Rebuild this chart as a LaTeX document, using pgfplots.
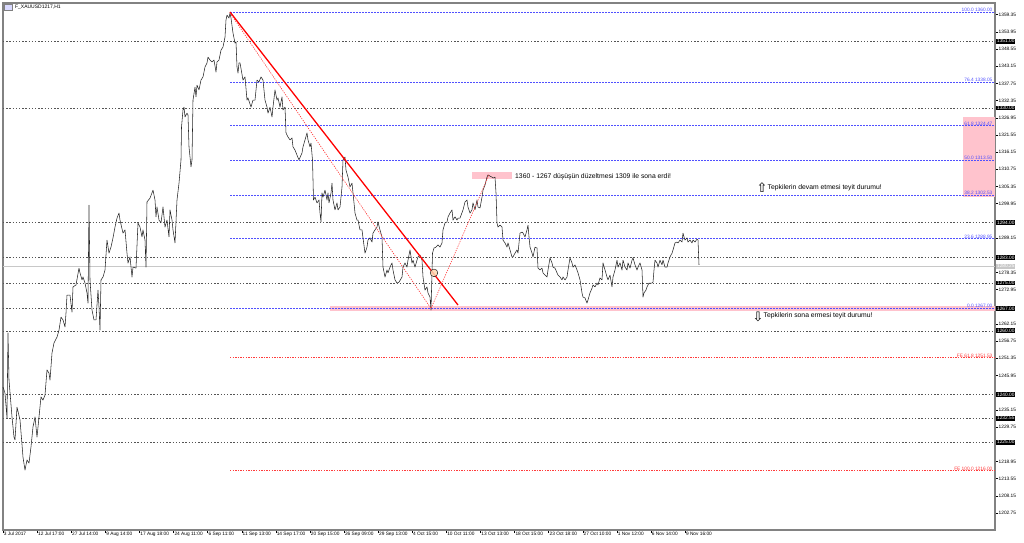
\documentclass[border=0pt]{standalone}
\usepackage{fontspec}
\setmainfont{Liberation Sans}
\newfontfamily\arrowfont{DejaVu Sans}
\usepackage{pgfplots}
\usepackage{pgfplotstable}
\pgfplotsset{compat=1.18}

\definecolor{fibblue}{RGB}{80,80,255}
\definecolor{fered}{RGB}{255,60,60}
\definecolor{dotgray}{RGB}{85,85,85}
\definecolor{zonepink}{RGB}{255,195,205}
\definecolor{framegray}{RGB}{130,130,130}
\definecolor{bidgray}{RGB}{200,200,200}

\tikzset{
  lbl/.style={inner sep=0.4pt, font=\fontsize{4.8}{5}\selectfont},
  pbox/.style={anchor=west, fill=black, text=white, inner sep=0.7pt, xshift=1.2pt, font=\fontsize{4.8}{5}\selectfont},
}

% close prices, x = bar position on the chart
\pgfplotstableread{
x p
3 1242.3
5 1240.4
7 1232.6
8 1259.3
9 1244.5
12 1232.9
14 1226.6
15 1225.7
17 1236.0
20 1232.0
23 1220.3
25 1216.2
27 1219.4
29 1218.4
31 1223.5
33 1229.8
35 1232.9
36 1229.8
37 1226.6
39 1232.9
41 1239.2
43 1238.2
45 1239.8
47 1247.7
49 1246.7
50 1244.5
52 1253.0
54 1256.2
57 1258.0
59 1260.2
61 1264.3
63 1263.4
65 1261.2
66 1265.6
67 1271.2
70 1271.2
72 1265.9
73 1273.8
76 1274.4
79 1279.7
80 1278.2
82 1276.0
83 1276.9
85 1275.0
87 1271.9
88 1268.7
89 1299.5
90 1276.0
92 1266.5
94 1263.4
96 1263.4
98 1272.8
99 1267.5
100 1260.2
101 1276.0
103 1276.9
105 1279.1
107 1288.5
109 1284.4
111 1286.3
113 1289.2
115 1292.6
117 1295.4
119 1297.0
120 1294.8
123 1290.7
125 1291.7
127 1284.4
128 1281.3
130 1283.2
132 1276.9
133 1280.0
136 1279.7
138 1293.9
140 1292.6
142 1289.5
143 1291.7
145 1288.5
146 1280.0
147 1300.5
150 1301.7
153 1304.2
155 1301.1
156 1295.8
157 1298.9
159 1294.8
161 1293.9
163 1298.9
165 1292.6
167 1294.8
169 1289.5
170 1298.0
172 1294.8
173 1291.7
175 1287.6
177 1301.1
179 1306.4
181 1313.7
181.5 1324.0
183 1329.4
184 1330.3
185 1327.2
187 1328.4
188 1327.8
189 1317.8
191 1311.5
192 1313.7
193 1332.5
195 1336.6
196 1333.5
197 1337.2
199 1335.7
201 1338.8
203 1339.8
205 1342.9
207 1344.2
208 1346.0
210 1345.1
212 1344.5
214 1345.1
216 1341.3
217 1344.5
219 1345.1
221 1348.2
223 1349.2
225 1352.3
226 1357.7
227 1359.2
229 1358.3
230 1359.9
231 1358.3
233 1353.6
235 1350.4
236 1350.8
237 1342.9
238 1341.0
239 1344.2
240 1344.2
243 1338.8
245 1339.8
247 1332.5
248 1333.2
251 1330.3
253 1332.5
255 1332.5
257 1338.8
259 1338.2
261 1339.8
263 1338.8
265 1332.5
267 1330.3
268 1328.4
270 1330.3
272 1327.2
273 1330.3
275 1335.7
277 1332.5
278 1333.2
280 1330.3
282 1333.5
283 1329.4
285 1330.3
286 1322.2
288 1320.9
290 1320.0
292 1320.6
293 1317.8
295 1316.8
297 1315.2
299 1313.7
302 1315.9
303 1317.8
305 1320.0
307 1322.2
308 1320.0
310 1317.8
311 1319.0
312.5 1313.7
313.5 1301.1
315 1302.0
317 1300.2
319 1301.1
320 1297.0
321 1294.2
322 1303.3
323 1302.0
325 1304.2
327 1301.1
328 1303.3
329 1300.2
331 1303.3
332 1306.4
333 1301.1
335 1298.0
337 1300.2
338 1298.0
340 1298.9
342 1305.2
343 1313.7
345 1314.6
346 1310.5
348 1308.3
350 1305.2
352 1306.4
353 1303.3
355 1297.0
357 1294.8
358 1294.8
360 1291.7
362 1291.7
363 1289.2
365 1284.4
367 1286.3
368 1288.5
370 1289.2
372 1287.9
373 1290.7
375 1291.7
377 1292.6
378 1294.2
380 1291.7
382 1289.5
383 1280.0
385 1276.9
387 1279.1
388 1278.2
390 1280.0
392 1281.3
393 1279.1
395 1276.0
397 1275.0
399 1275.3
402 1276.9
403 1280.0
405 1281.3
407 1280.0
408 1282.2
410 1285.4
412 1281.3
413 1282.2
415 1280.0
417 1282.2
418 1283.2
420 1283.8
422 1282.2
423 1276.9
425 1272.8
427 1273.8
428 1271.9
430 1270.6
431 1266.5
432.5 1284.4
434 1286.0
436 1286.3
438 1287.0
440 1286.3
442 1287.6
443 1291.7
445 1293.9
447 1294.2
448 1295.8
450 1297.0
452 1298.0
453 1294.8
455 1295.8
457 1294.8
458 1295.4
460 1295.4
463 1298.0
465 1300.5
467 1301.1
468 1298.9
470 1297.0
472 1298.0
473 1300.2
475 1298.0
477 1301.1
478 1298.9
480 1298.6
482 1302.0
483 1304.2
485 1305.8
487 1308.3
488 1309.0
490 1308.6
492 1308.3
493 1308.0
495 1308.3
496 1303.3
497 1293.9
498 1292.6
500 1293.2
502 1292.6
503 1288.5
505 1287.6
507 1286.3
508 1287.6
510 1285.4
512 1283.2
513 1283.2
515 1284.4
517 1285.4
518 1284.4
520 1290.7
522 1291.0
523 1290.7
525 1289.5
527 1291.7
528 1293.2
529 1289.5
530 1286.3
532 1284.4
533 1283.2
535 1286.3
537 1286.0
538 1279.7
540 1279.1
542 1279.7
543 1278.2
545 1277.5
547 1276.9
548 1279.1
550 1282.9
552 1281.3
553 1280.0
555 1279.7
557 1278.2
558 1277.5
560 1276.9
562 1276.0
563 1276.9
565 1276.0
567 1276.9
568 1279.1
570 1282.9
572 1281.3
573 1280.0
575 1280.7
577 1279.1
578 1278.2
580 1276.0
582 1271.9
583 1270.6
585 1270.3
587 1268.7
588 1269.7
590 1271.9
592 1273.4
593 1274.4
595 1273.8
597 1275.0
598 1274.4
600 1276.6
602 1276.0
603 1281.3
605 1279.1
607 1276.9
608 1276.0
610 1277.5
612 1273.8
613 1276.9
615 1279.1
617 1282.2
618 1280.0
620 1281.3
622 1279.1
623 1282.2
625 1280.0
627 1279.1
628 1281.3
630 1279.7
632 1282.2
633 1282.9
635 1280.7
637 1279.1
638 1280.0
640 1281.3
642 1279.1
643 1270.6
644 1271.9
646 1272.8
647 1273.8
649 1275.0
652 1275.0
653 1275.3
654 1279.1
655 1282.2
657 1281.3
658 1280.0
660 1282.2
662 1280.7
663 1282.2
665 1280.0
667 1280.0
668 1281.3
670 1283.2
672 1284.4
673 1285.4
675 1287.6
677 1287.9
678 1287.6
680 1288.5
682 1287.9
683 1290.7
684 1289.5
685 1288.5
687 1289.2
688 1287.9
690 1288.5
692 1287.6
693 1288.5
695 1287.9
697 1288.8
698 1288.5
699 1280.7
}\price

\begin{document}
\begin{tikzpicture}[x=1pt,y=1pt]
\useasboundingbox (-3,-12) rectangle (1021,530);
\begin{axis}[
  at={(0,0)}, anchor=south west,
  scale only axis, width=992pt, height=527pt,
  xmin=3, xmax=995, ymin=1197.38, ymax=1363.02,
  clip=false,
  axis line style={framegray, line width=1.2pt},
  tick align=outside, major tick length=3pt,
  tick style={black, line width=0.4pt},
  xtick pos=bottom, ytick pos=right,
  yticklabel pos=right,
  xtick={3,37.1,71.2,105.3,139.4,173.5,207.6,241.7,275.8,309.9,344,378.1,412.2,446.3,480.4,514.5,548.6,582.7,616.8,650.9,685},
  xticklabels={3 Jul 2017,12 Jul 17:00,27 Jul 14:00,9 Aug 14:00,17 Aug 18:00,24 Aug 11:00,6 Sep 11:00,11 Sep 13:00,14 Sep 17:00,20 Sep 15:00,26 Sep 09:00,29 Sep 13:00,4 Oct 15:00,10 Oct 11:00,13 Oct 13:00,18 Oct 15:00,23 Oct 18:00,27 Oct 10:00,1 Nov 12:00,6 Nov 14:00,9 Nov 16:00},
  xticklabel style={anchor=north west, inner sep=0pt, yshift=1.5pt, xshift=0.8pt, font=\fontsize{4.8}{5}\selectfont},
  ytick={1359.35,1353.95,1348.55,1343.15,1337.75,1332.35,1326.95,1321.55,1316.15,1310.75,1305.35,1299.95,1289.15,1278.35,1272.95,1262.15,1256.75,1251.35,1245.95,1235.15,1229.75,1218.95,1213.55,1208.15,1202.75},
  yticklabels={1359.35,1353.95,1348.55,1343.15,1337.75,1332.35,1326.95,1321.55,1316.15,1310.75,1305.35,1299.95,1289.15,1278.35,1272.95,1262.15,1256.75,1251.35,1245.95,1235.15,1229.75,1218.95,1213.55,1208.15,1202.75},
  yticklabel style={anchor=west, inner sep=0.5pt, font=\fontsize{4.8}{5}\selectfont},
  dotline/.style={dotgray, line width=0.4pt, dash pattern=on 1.4pt off 1.8pt},
  fibline/.style={fibblue, line width=0.5pt, dash pattern=on 1.6pt off 1.4pt},
  feline/.style={fered, line width=0.6pt, dash pattern=on 1.4pt off 1.2pt},
]
% pink zones
\addplot[fill=zonepink, draw=none] coordinates {(963,1302.05)(995,1302.05)(995,1327.2)(963,1327.2)} -- cycle;
\addplot[fill=zonepink, draw=none] coordinates {(472,1307.7)(512,1307.7)(512,1309.9)(472,1309.9)} -- cycle;
\addplot[fill=zonepink, draw=none] coordinates {(330,1266.2)(995,1266.2)(995,1267.8)(330,1267.8)} -- cycle;

% horizontal levels
\pgfplotsinvokeforeach{1351,1330,1294,1283,1275,1260,1240,1232.55,1225}{
  \addplot[dotline] coordinates {(3,#1)(995,#1)};
}
\addplot[dotline] coordinates {(3,1267)(230,1267)};
\pgfplotsinvokeforeach{1360,1338.05,1324.47,1313.50,1302.53,1288.95,1267}{
  \addplot[fibline] coordinates {(230,#1)(995,#1)};
}
\pgfplotsinvokeforeach{1251.53,1216}{
  \addplot[feline] coordinates {(230,#1)(995,#1)};
}
\addplot[bidgray, line width=1pt] coordinates {(3,1280.25)(995,1280.25)};

% orange marker
\addplot[only marks, mark=*, mark size=3.8pt, mark options={fill=orange!30, draw=none, fill opacity=0.85}] coordinates {(434,1278.2)};

% price
\addplot[black!85, line width=0.55pt, line join=round] table[x=x, y=p] {\price};

% trend lines
\addplot[red, line width=1.3pt] coordinates {(230,1360.2)(458,1268.1)};
\addplot[red!80, line width=0.6pt, dash pattern=on 1.2pt off 1.2pt] coordinates {(230,1359.9)(431,1267.0)(489,1309.0)};

% level labels
\node[lbl, fibblue, anchor=south east] at (axis cs:993,1360) {100.0 1360.00};
\node[lbl, fibblue, anchor=south east] at (axis cs:993,1338.05) {76.4 1338.05};
\node[lbl, fibblue, anchor=south east] at (axis cs:993,1324.47) {61.8 1324.47};
\node[lbl, fibblue, anchor=south east] at (axis cs:993,1313.50) {50.0 1313.50};
\node[lbl, fibblue, anchor=south east] at (axis cs:993,1302.53) {38.2 1302.53};
\node[lbl, fibblue, anchor=south east] at (axis cs:993,1288.95) {23.6 1288.95};
\node[lbl, fibblue, anchor=south east] at (axis cs:993,1267) {0.0 1267.00};
\node[lbl, fered, anchor=south east] at (axis cs:993,1251.53) {FE 61.8 1251.53};
\node[lbl, fered, anchor=south east] at (axis cs:993,1216) {FE 100.0 1216.00};

% price boxes on the scale
\node[pbox] at (axis cs:995,1351) {1351.00};
\node[pbox] at (axis cs:995,1330) {1330.00};
\node[pbox] at (axis cs:995,1294) {1294.00};
\node[pbox] at (axis cs:995,1283) {1283.00};
\node[pbox, fill=bidgray] at (axis cs:995,1280.25) {1280.25};
\node[pbox] at (axis cs:995,1275) {1275.00};
\node[pbox] at (axis cs:995,1267) {1267.00};
\node[pbox] at (axis cs:995,1260) {1260.00};
\node[pbox] at (axis cs:995,1240) {1240.00};
\node[pbox] at (axis cs:995,1232.55) {1232.55};
\node[pbox] at (axis cs:995,1225) {1225.00};

% comments
\node[anchor=west, inner sep=0pt, font=\fontsize{6.8}{7}\selectfont] at (axis cs:515,1308.4) {1360 - 1267 düşüşün düzeltmesi 1309 ile sona erdi!};
\node[inner sep=0pt, font=\arrowfont\fontsize{13}{13}\selectfont] at (axis cs:762,1305.0) {⇧};
\node[anchor=west, inner sep=0pt, font=\fontsize{6.8}{7}\selectfont] at (axis cs:767.5,1305.0) {Tepkilerin devam etmesi teyit durumu!};
\node[inner sep=0pt, font=\arrowfont\fontsize{13}{13}\selectfont] at (axis cs:758,1264.2) {⇩};
\node[anchor=west, inner sep=0pt, font=\fontsize{6.8}{7}\selectfont] at (axis cs:763.5,1264.6) {Tepkilerin sona ermesi teyit durumu!};

% title
\draw[fill=blue!15, draw=gray] (rel axis cs:0.0015,0.987) rectangle (rel axis cs:0.009,0.998);
\node[anchor=west, inner sep=0pt, font=\fontsize{5}{5}\selectfont] at (rel axis cs:0.012,0.9915) {F\_XAUUSD1217,H1};
\end{axis}
\end{tikzpicture}
\end{document}
